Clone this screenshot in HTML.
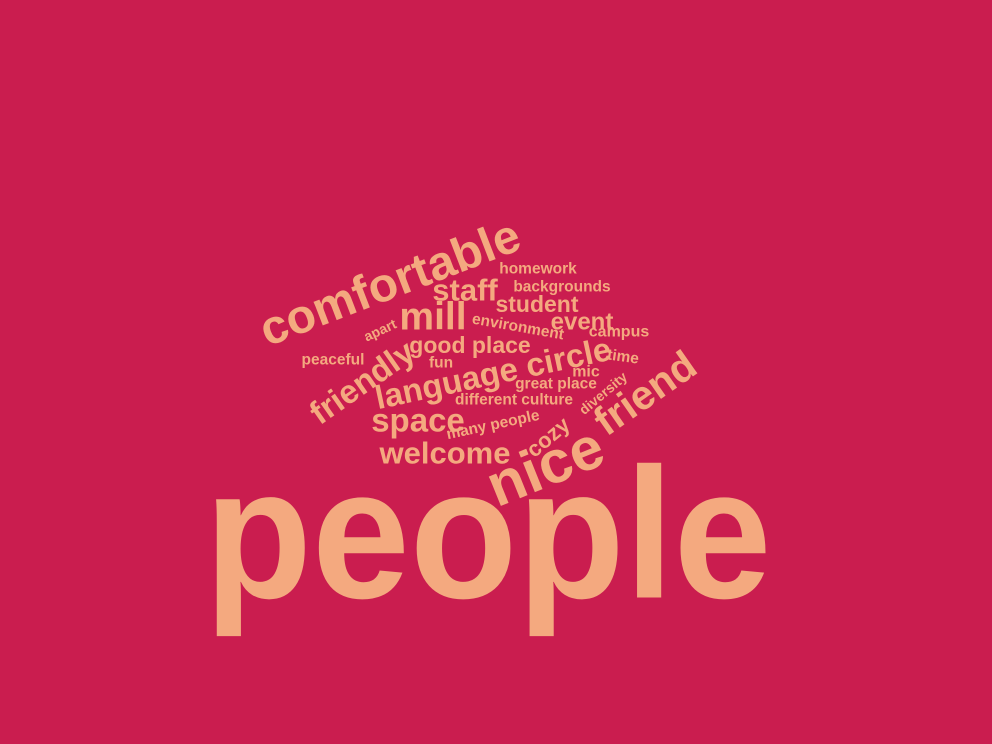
<!DOCTYPE html>
<html><head><meta charset="utf-8"><style>
html,body{margin:0;padding:0;background:#CA1D4F;}
svg{display:block;}
text{font-family:"Liberation Sans",Arial,sans-serif;font-weight:bold;fill:#F4A97F;}
</style></head><body>
<svg id="cloud" width="992" height="744" viewBox="0 0 992 744">
<rect width="992" height="744" fill="#CA1D4F"/>
</svg>
<script>
const words = ["people","nice","comfortable","friend","mill","language circle","friendly","space","welcome","staff","good place","event","student","cozy","campus","mic","homework","backgrounds","environment","peaceful","fun","time","great place","different culture","many people","apart","diversity"];
const sizes = [186,60,48,41,39,33,33,33,31,31,23,24,23,22,16,16,15.5,15.5,15.5,15.5,15.5,15.5,15.5,15.5,15.5,14,14];
// layout (centers and rotations)
const layoutX = [488,545,390,645,433,493,362,418,445,465,470,582,537,548,619,586,538,562,518,333,441,623,556,514,493,380,603];
const layoutY = [534,466,283,393,317,373,382,420,453,290,345,322,304,437,332,372,269,287,327,360,363,357,384,400,425,330,393];
const layoutR = [0,-22,-21,-35,0,-12,-35,0,0,0,0,0,0,-40,0,0,0,0,10,0,0,8,0,0,-12,-25,-40];
const svg = document.getElementById('cloud');
const NS = "http://www.w3.org/2000/svg";
words.forEach((w,i)=>{
  const t = document.createElementNS(NS,'text');
  t.setAttribute('x', layoutX[i]);
  t.setAttribute('y', layoutY[i]);
  t.setAttribute('font-size', sizes[i]);
  t.setAttribute('text-anchor','middle');
  t.setAttribute('dominant-baseline','central');
  if (i===0){ t.setAttribute('textLength','567'); t.setAttribute('lengthAdjust','spacingAndGlyphs'); }
  if (layoutR[i]) t.setAttribute('transform','rotate('+layoutR[i]+' '+layoutX[i]+' '+layoutY[i]+')');
  t.textContent = w;
  
  
  svg.appendChild(t);
});
</script>
</body></html>
